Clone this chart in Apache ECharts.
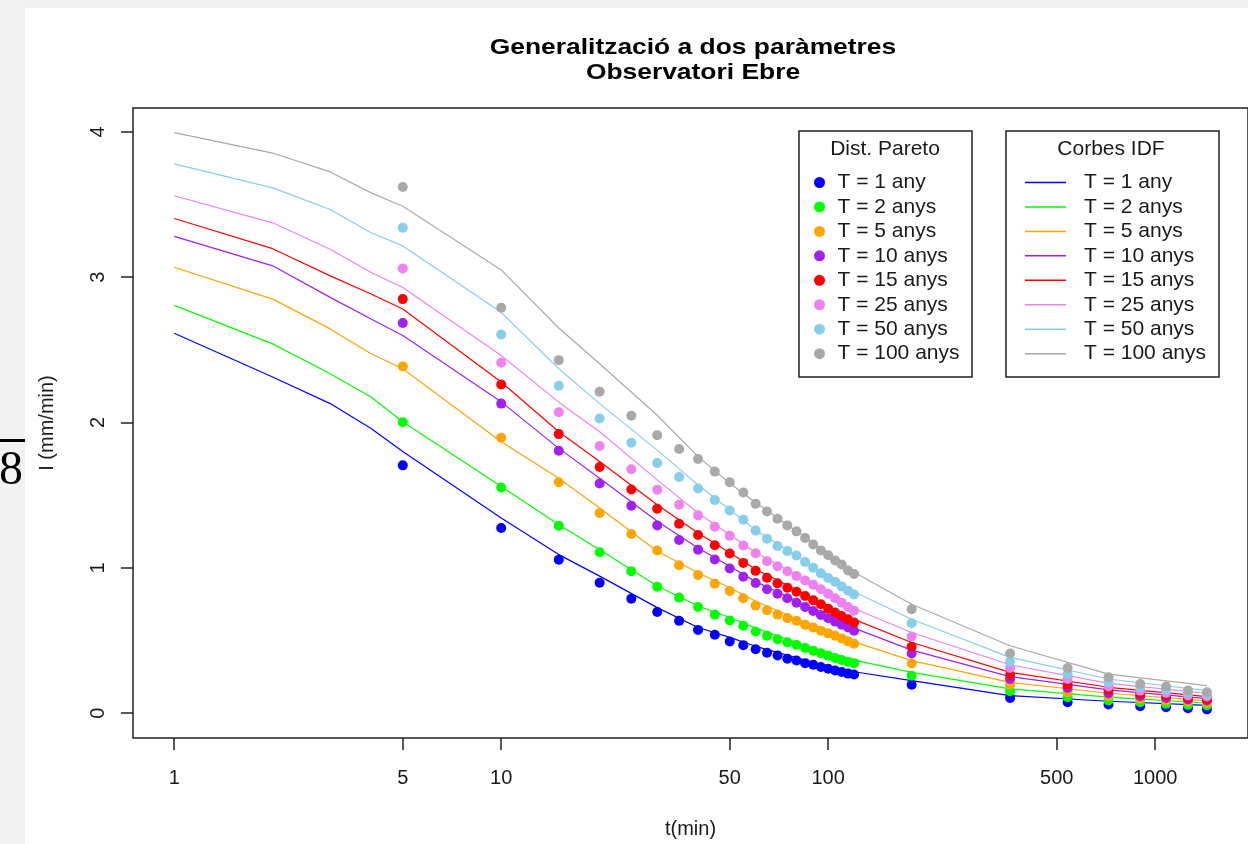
<!DOCTYPE html>
<html><head><meta charset="utf-8">
<script src="https://cdn.jsdelivr.net/npm/echarts@6/dist/echarts.min.js"></script>
<style>html,body{margin:0;padding:0;background:#fff}#c{width:1248px;height:844px}</style>
</head><body><div id="c"></div>
<script>
// ---------- DATA ----------
const chartTitle1 = 'Generalització a dos paràmetres';
const chartTitle2 = 'Observatori Ebre';
const xName = 't(min)';
const yName = 'I (mm/min)';
const legendTitlePareto = 'Dist. Pareto';
const legendTitleIDF = 'Corbes IDF';
const labels = ['T = 1 any','T = 2 anys','T = 5 anys','T = 10 anys','T = 15 anys','T = 25 anys','T = 50 anys','T = 100 anys'];
const colors = ['#0000FF','#00FF00','#FFA500','#A020F0','#FF0000','#EE82EE','#87CEEB','#A9A9A9'];
const xTicks = [1,5,10,50,100,500,1000];
const yTicks = [0,1,2,3,4];

// durations (min) of the Pareto points
const tPoints = [5,10,15,20,25,30,35,40,45,50,55,60,65,70,75,80,85,90,95,100,105,110,115,120,180,360,540,720,900,1080,1260,1440];
const pareto1   = [1.705,1.274,1.055,0.897,0.788,0.696,0.635,0.573,0.539,0.493,0.468,0.440,0.415,0.397,0.375,0.362,0.344,0.333,0.318,0.305,0.294,0.283,0.272,0.266,0.196,0.105,0.075,0.060,0.048,0.041,0.034,0.026];
const pareto2   = [2.002,1.553,1.290,1.107,0.977,0.870,0.795,0.731,0.678,0.637,0.601,0.562,0.533,0.509,0.487,0.470,0.449,0.430,0.412,0.396,0.380,0.366,0.354,0.344,0.258,0.151,0.110,0.087,0.075,0.064,0.057,0.053];
const pareto5   = [2.386,1.895,1.589,1.377,1.233,1.119,1.018,0.950,0.890,0.840,0.790,0.740,0.708,0.678,0.654,0.635,0.609,0.589,0.567,0.549,0.532,0.514,0.494,0.477,0.342,0.196,0.144,0.116,0.098,0.087,0.080,0.071];
const pareto10  = [2.685,2.130,1.806,1.580,1.427,1.292,1.192,1.125,1.057,0.995,0.938,0.895,0.852,0.822,0.790,0.760,0.731,0.703,0.676,0.653,0.630,0.608,0.589,0.567,0.411,0.235,0.174,0.137,0.116,0.105,0.094,0.087];
const pareto15  = [2.849,2.262,1.920,1.694,1.539,1.406,1.303,1.226,1.155,1.098,1.034,0.979,0.932,0.893,0.863,0.835,0.806,0.776,0.749,0.719,0.692,0.669,0.646,0.623,0.457,0.263,0.196,0.160,0.132,0.121,0.105,0.098];
const pareto25  = [3.059,2.411,2.071,1.838,1.678,1.537,1.434,1.361,1.283,1.221,1.153,1.100,1.046,1.011,0.977,0.943,0.913,0.884,0.852,0.822,0.790,0.760,0.731,0.705,0.527,0.311,0.235,0.183,0.155,0.139,0.121,0.114];
const pareto50  = [3.340,2.605,2.253,2.027,1.861,1.721,1.625,1.546,1.466,1.395,1.331,1.256,1.200,1.150,1.115,1.085,1.040,1.000,0.962,0.930,0.905,0.872,0.843,0.817,0.619,0.354,0.269,0.212,0.178,0.160,0.139,0.128];
const pareto100 = [3.621,2.790,2.429,2.212,2.046,1.913,1.817,1.749,1.662,1.589,1.518,1.441,1.388,1.338,1.292,1.251,1.205,1.160,1.119,1.087,1.050,1.023,0.982,0.957,0.715,0.411,0.311,0.247,0.201,0.183,0.155,0.144];

// durations (min) at which the IDF curves were read
const tCurve = [1,2,3,4,5,10,15,20,30,40,50,60,90,120,180,360,720,1440];
const idf1   = [2.614,2.313,2.130,1.959,1.800,1.342,1.091,0.943,0.726,0.589,0.521,0.460,0.350,0.285,0.224,0.121,0.082,0.053];
const idf2   = [2.806,2.541,2.336,2.176,2.005,1.560,1.297,1.125,0.875,0.737,0.658,0.585,0.445,0.365,0.281,0.167,0.110,0.070];
const idf5   = [3.068,2.849,2.644,2.473,2.370,1.868,1.616,1.411,1.114,0.966,0.863,0.770,0.600,0.490,0.361,0.212,0.137,0.085];
const idf10  = [3.281,3.078,2.861,2.712,2.598,2.142,1.822,1.616,1.320,1.137,1.011,0.905,0.720,0.585,0.434,0.251,0.160,0.100];
const idf15  = [3.404,3.196,3.009,2.884,2.781,2.279,1.936,1.731,1.434,1.240,1.103,0.990,0.790,0.645,0.486,0.281,0.178,0.114];
const idf25  = [3.560,3.374,3.192,3.032,2.929,2.461,2.140,1.936,1.605,1.377,1.228,1.105,0.890,0.720,0.555,0.333,0.205,0.137];
const idf50  = [3.779,3.614,3.466,3.306,3.215,2.758,2.370,2.130,1.810,1.571,1.399,1.260,1.010,0.835,0.646,0.384,0.235,0.155];
const idf100 = [3.995,3.854,3.724,3.580,3.488,3.050,2.650,2.404,2.050,1.765,1.582,1.450,1.170,0.970,0.749,0.464,0.269,0.189];

const paretoSets = [pareto1,pareto2,pareto5,pareto10,pareto15,pareto25,pareto50,pareto100];
const idfSets = [idf1,idf2,idf5,idf10,idf15,idf25,idf50,idf100];

// ---------- CHART ----------
const FONT = "'Liberation Sans', Arial, Helvetica, sans-serif";
const TXT = '#1a1a1a';
const IDF_SUFFIX = ' (IDF)';

const lineSeries = idfSets.map((vals, i) => ({
  type: 'line', name: labels[i] + IDF_SUFFIX,
  data: tCurve.map((t, k) => [t, vals[k]]),
  symbol: 'none', showSymbol: false, smooth: false,
  lineStyle: { color: colors[i], width: 1.2 },
  itemStyle: { color: colors[i] },
  emphasis: { disabled: true }, silent: true, z: 2
}));
const pointSeries = paretoSets.map((vals, i) => ({
  type: 'scatter', name: labels[i],
  data: tPoints.map((t, k) => [t, vals[k]]),
  symbol: 'circle', symbolSize: 10,
  itemStyle: { color: colors[i], borderWidth: 0, opacity: 1 },
  emphasis: { disabled: true }, silent: true, z: 3
}));

const chart = echarts.init(document.getElementById('c'), null, { renderer: 'canvas' });
chart.setOption({
  animation: false,
  backgroundColor: '#ffffff',
  grid: { left: 133, top: 108, width: 1122, height: 633, show: true, borderColor: '#222', borderWidth: 1.5, backgroundColor: 'transparent', containLabel: false },
  xAxis: {
    type: 'log', logBase: 10, min: 0.748, max: 1923,
    axisLine: { show: false, onZero: false },
    axisTick: { show: true, length: 12, inside: false, customValues: xTicks, lineStyle: { color: '#222', width: 1.5 } },
    axisLabel: { show: true, customValues: xTicks, margin: 30, fontSize: 20, color: TXT, fontFamily: FONT, formatter: v => String(v) },
    splitLine: { show: false }, minorTick: { show: false }, minorSplitLine: { show: false },
    name: xName, nameLocation: 'middle', nameGap: 81,
    nameTextStyle: { fontSize: 20, color: TXT, fontFamily: FONT }
  },
  yAxis: {
    type: 'value', min: -0.171, max: 4.164,
    axisLine: { show: false, onZero: false },
    axisTick: { show: true, length: 12, customValues: yTicks, lineStyle: { color: '#222', width: 1.5 } },
    axisLabel: { show: true, customValues: yTicks, rotate: 90, margin: 25, fontSize: 20, color: TXT, fontFamily: FONT },
    splitLine: { show: false },
    name: yName, nameLocation: 'middle', nameGap: 76, nameRotate: 90,
    nameTextStyle: { fontSize: 20, color: TXT, fontFamily: FONT }
  },
  legend: [
    {
      orient: 'vertical', left: 814, top: 172, padding: 0,
      itemWidth: 26, itemHeight: 11, itemGap: 3.45, icon: 'circle',
      selectedMode: false, data: labels.slice(),
      textStyle: { fontSize: 21, color: TXT, fontFamily: FONT }
    },
    {
      orient: 'vertical', left: 1025, top: 172, padding: 0,
      itemWidth: 41, itemHeight: 1.5, itemGap: 3.45, icon: 'rect',
      selectedMode: false, data: labels.map(l => l + IDF_SUFFIX),
      formatter: n => n.replace(IDF_SUFFIX, ''),
      textStyle: { fontSize: 21, color: TXT, fontFamily: FONT, padding: [0, 0, 0, 13] }
    }
  ],
  graphic: [
    { type: 'rect', silent: true, z: -10, shape: { x: 0, y: 0, width: 1248, height: 8 }, style: { fill: '#F0F0F0' } },
    { type: 'rect', silent: true, z: -10, shape: { x: 0, y: 0, width: 25, height: 844 }, style: { fill: '#F2F2F2' } },
    { type: 'rect', silent: true, z: -9, shape: { x: 0, y: 439, width: 25, height: 3 }, style: { fill: '#000' } },
    { type: 'text', silent: true, z: -9, x: -1, y: 471,
      style: { text: '8', font: "48px 'Liberation Serif', 'DejaVu Serif', serif", fill: '#000', align: 'left', textAlign: 'left', verticalAlign: 'middle', textVerticalAlign: 'middle' } },
    { type: 'text', silent: true, x: 693, y: 48, scaleX: 1.2,
      style: { text: chartTitle1, font: "bold 22px " + FONT, fill: '#000', align: 'center', textAlign: 'center', verticalAlign: 'middle', textVerticalAlign: 'middle' } },
    { type: 'text', silent: true, x: 693, y: 73, scaleX: 1.2,
      style: { text: chartTitle2, font: "bold 22px " + FONT, fill: '#000', align: 'center', textAlign: 'center', verticalAlign: 'middle', textVerticalAlign: 'middle' } },
    { type: 'rect', silent: true, shape: { x: 799, y: 131, width: 173, height: 246 }, style: { fill: 'none', stroke: '#222', lineWidth: 1.5 } },
    { type: 'rect', silent: true, shape: { x: 1006, y: 131, width: 213, height: 246 }, style: { fill: 'none', stroke: '#222', lineWidth: 1.5 } },
    { type: 'text', silent: true, x: 885, y: 149,
      style: { text: legendTitlePareto, font: "21px " + FONT, fill: TXT, align: 'center', textAlign: 'center', verticalAlign: 'middle', textVerticalAlign: 'middle' } },
    { type: 'text', silent: true, x: 1111, y: 149,
      style: { text: legendTitleIDF, font: "21px " + FONT, fill: TXT, align: 'center', textAlign: 'center', verticalAlign: 'middle', textVerticalAlign: 'middle' } }
  ],
  series: lineSeries.concat(pointSeries)
});
</script></body></html>
